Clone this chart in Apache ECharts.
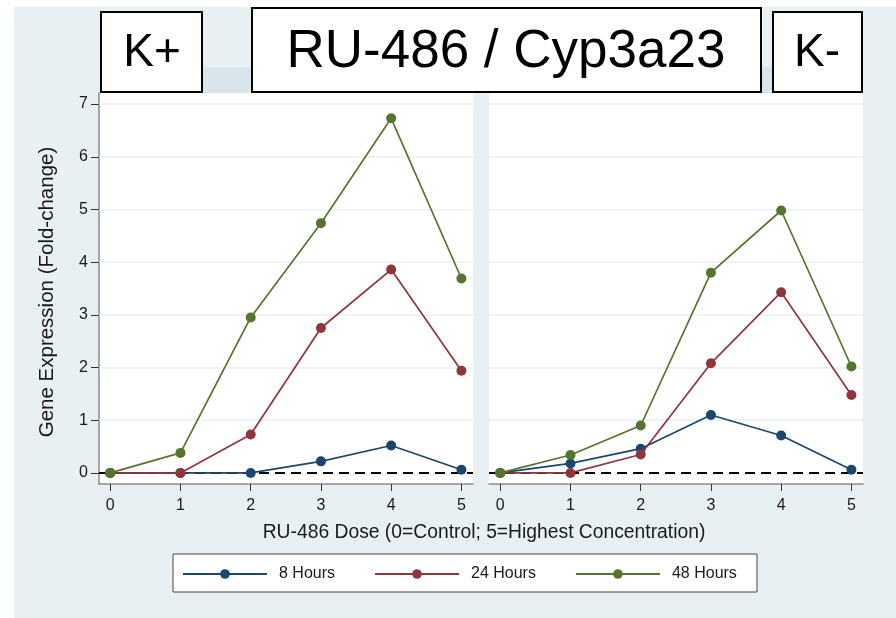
<!DOCTYPE html>
<html>
<head>
<meta charset="utf-8">
<script src="https://cdn.jsdelivr.net/npm/echarts@6/dist/echarts.min.js"></script>
<style>
html,body{margin:0;padding:0;background:#fff;}
#chart{width:896px;height:618px;}
</style>
</head>
<body>
<div id="chart"></div>
<script>
// ---- data ----
const doses = [0, 1, 2, 3, 4, 5];
const seriesNames = ['8 Hours', '24 Hours', '48 Hours'];
const kPlus8  = [0, 0, 0, 0.22, 0.52, 0.06];
const kPlus24 = [0, 0, 0.73, 2.75, 3.86, 1.94];
const kPlus48 = [0, 0.38, 2.95, 4.74, 6.73, 3.69];
const kMinus8  = [0, 0.18, 0.46, 1.10, 0.71, 0.06];
const kMinus24 = [0, 0, 0.35, 2.08, 3.43, 1.48];
const kMinus48 = [0, 0.34, 0.90, 3.80, 4.98, 2.02];
const xTicks = [0, 1, 2, 3, 4, 5];
const yTicks = [0, 1, 2, 3, 4, 5, 6, 7];
const gridLines = [1, 2, 3, 4, 5, 6, 7];
const panelLabels = ['K+', 'K-'];
const titleText = 'RU-486 / Cyp3a23';
const xTitle = 'RU-486 Dose (0=Control; 5=Highest Concentration)';
const yTitle = 'Gene Expression (Fold-change)';

const colors = ['#1a476f', '#90353b', '#55752f'];
const FONT = '"Liberation Sans", Arial, sans-serif';

function pairs(ys) { return doses.map((d, i) => [d, ys[i]]); }

const chart = echarts.init(document.getElementById('chart'), null, {renderer: 'canvas'});

const panels = [[kPlus8, kPlus24, kPlus48], [kMinus8, kMinus24, kMinus48]];

const series = [];
panels.forEach((p, gi) => {
  series.push({
    name: 'ref' + gi, type: 'line', xAxisIndex: gi, yAxisIndex: gi,
    data: [], z: 1, silent: true, animation: false,
    markLine: {
      z: 1,
      silent: true, symbol: ['none', 'none'], animation: false,
      label: {show: false},
      data: gridLines.map(v => ({yAxis: v, lineStyle: {color: '#e9f1f3', width: 1.6, type: 'solid'}}))
        .concat([{yAxis: 0, lineStyle: {color: '#000', width: 1.9, type: [10, 6]}}])
    }
  });
  p.forEach((ys, si) => {
    series.push({
      name: seriesNames[si], type: 'line', xAxisIndex: gi, yAxisIndex: gi,
      data: pairs(ys), z: 3 + si,
      symbol: 'circle', symbolSize: 10, showSymbol: true,
      lineStyle: {color: colors[si], width: 1.7},
      itemStyle: {color: colors[si]},
      animation: false
    });
  });
});

const xAxisBase = {
  type: 'value', min: -0.16, max: 5.165,
  axisLine: {show: true, onZero: false, lineStyle: {color: '#8a8a8a', width: 1.5}},
  axisTick: {show: true, length: 7, customValues: xTicks, lineStyle: {color: '#333', width: 1}},
  axisLabel: {customValues: xTicks, fontSize: 16, color: '#1a1a1a', fontFamily: FONT, margin: 14},
  splitLine: {show: false}
};

const option = {
  backgroundColor: '#ffffff',
  animation: false,
  color: colors,
  grid: [
    {left: 99, top: 93, width: 374, height: 391, show: false, containLabel: false},
    {left: 489, top: 93, width: 374, height: 391, show: false, containLabel: false}
  ],
  xAxis: [
    Object.assign({gridIndex: 0}, xAxisBase),
    Object.assign({gridIndex: 1}, xAxisBase)
  ],
  yAxis: [
    {gridIndex: 0, type: 'value', min: -0.21, max: 7.21,
     axisLine: {show: true, onZero: false, lineStyle: {color: '#8a8a8a', width: 1.5}},
     axisTick: {show: true, length: 8, customValues: yTicks, lineStyle: {color: '#333', width: 1}},
     axisLabel: {customValues: yTicks, fontSize: 16, color: '#1a1a1a', fontFamily: FONT, margin: 11},
     splitLine: {show: false}},
    {gridIndex: 1, type: 'value', min: -0.21, max: 7.21,
     axisLine: {show: false, onZero: false}, axisTick: {show: false}, axisLabel: {show: false},
     splitLine: {show: false}}
  ],
  legend: {
    data: seriesNames,
    left: 182, top: 566,
    padding: 0,
    itemGap: 39, itemWidth: 84, itemHeight: 12,
    textStyle: {fontSize: 16, color: '#1a1a1a', fontFamily: FONT, padding: [0, 0, 0, 7]},
    selectedMode: false
  },
  graphic: [
    {type: 'rect', z: -20, shape: {x: 14, y: 7, width: 882, height: 611}, style: {fill: '#e8f0f3'}, silent: true},
    {type: 'rect', z: -19, shape: {x: 100, y: 67, width: 763, height: 26}, style: {fill: '#d9e5ea'}, silent: true},
    {type: 'rect', z: -18, shape: {x: 99, y: 93, width: 374, height: 391}, style: {fill: '#ffffff'}, silent: true},
    {type: 'rect', z: -18, shape: {x: 489, y: 93, width: 374, height: 391}, style: {fill: '#ffffff'}, silent: true},
    // title boxes
    {type: 'rect', z: 50, shape: {x: 101, y: 12, width: 101, height: 80}, style: {fill: '#fff', stroke: '#000', lineWidth: 2}},
    {type: 'text', z: 51, x: 152, y: 53, style: {text: panelLabels[0], fill: '#000', font: '46px ' + FONT, align: 'center', verticalAlign: 'middle'}},
    {type: 'rect', z: 50, shape: {x: 252, y: 8, width: 509, height: 84}, style: {fill: '#fff', stroke: '#000', lineWidth: 2}},
    {type: 'text', z: 51, x: 506, y: 52, style: {text: titleText, fill: '#000', font: '53px ' + FONT, align: 'center', verticalAlign: 'middle'}},
    {type: 'rect', z: 50, shape: {x: 773, y: 12, width: 89, height: 80}, style: {fill: '#fff', stroke: '#000', lineWidth: 2}},
    {type: 'text', z: 51, x: 817, y: 53, style: {text: panelLabels[1], fill: '#000', font: '46px ' + FONT, align: 'center', verticalAlign: 'middle'}},
    // axis titles
    {type: 'text', z: 10, x: 484, y: 533, style: {text: xTitle, fill: '#1a1a1a', font: '19.3px ' + FONT, align: 'center', verticalAlign: 'middle'}},
    {type: 'text', z: 10, x: 47, y: 292, rotation: Math.PI / 2, style: {text: yTitle, fill: '#1a1a1a', font: '20.5px ' + FONT, align: 'center', verticalAlign: 'middle'}},
    // legend box
    {type: 'rect', z: -5, shape: {x: 173, y: 554, width: 584, height: 38}, style: {fill: '#fff', stroke: '#444', lineWidth: 1}}
  ],
  series: series
};
chart.setOption(option);
</script>
</body>
</html>
